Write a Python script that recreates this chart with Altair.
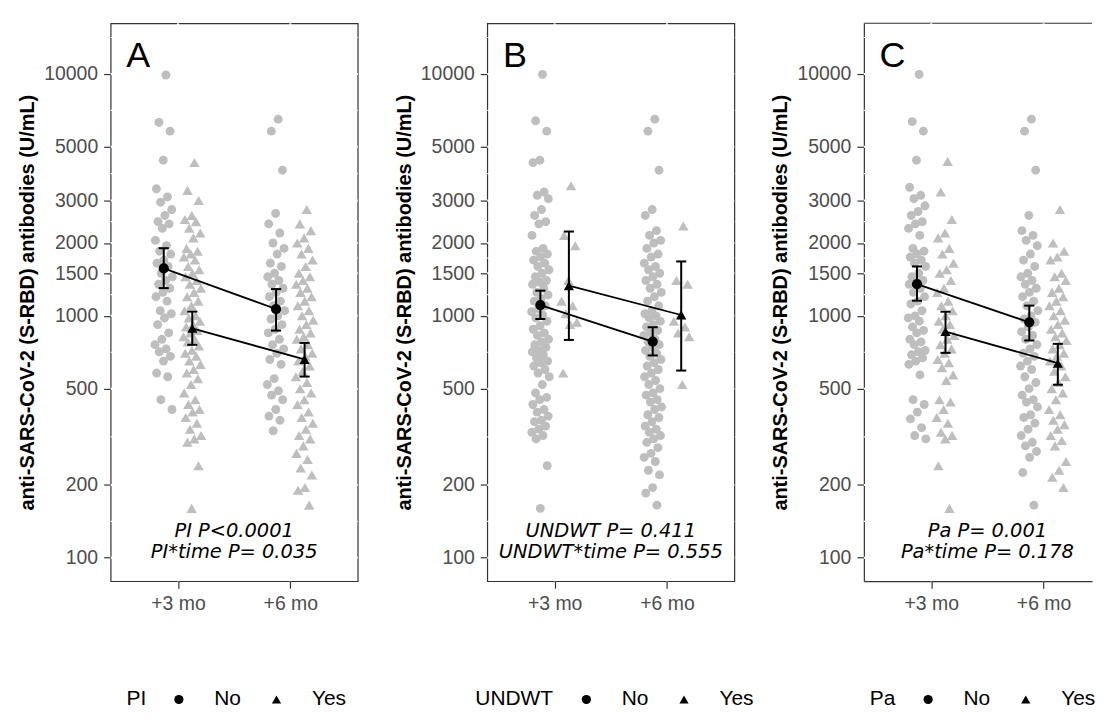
import altair as alt
import pandas as pd

PANELS = ["A", "B", "C"]
FACTORS = ["PI", "UNDWT", "Pa"]
GROUPS = ["No", "Yes"]
TIMES = ["+3 mo", "+6 mo"]
P_MAIN = ["PI P<0.0001", "UNDWT P= 0.411", "Pa P= 0.001"]
P_INTER = ["PI*time P= 0.035", "UNDWT*time P= 0.555", "Pa*time P= 0.178"]
Y_TICKS = [100, 200, 500, 1000, 1500, 2000, 3000, 5000, 10000]
Y_TITLE = "anti-SARS-CoV-2 (S-RBD) antibodies (U/mL)"
Y_MIN, Y_MAX = 80, 16200

# ---- individual values (U/mL) ----
A_NO_3 = [9900, 6300, 5800, 4400, 3350, 3100, 2950, 2750, 2600, 2450, 2400, 2300, 2050, 1950,
          1850, 1800, 1700, 1650, 1600, 1500, 1450, 1400, 1350, 1300, 1250, 1200, 1150, 1050,
          1020, 980, 920, 850, 800, 760, 730, 710, 680, 650, 580, 560, 450, 410]
A_YES_3 = [4300, 3300, 3000, 2600, 2500, 2450, 2300, 2200, 2100, 1900, 1850, 1800, 1750, 1700,
           1600, 1550, 1500, 1450, 1400, 1350, 1300, 1250, 1200, 1150, 1100, 1050, 1000, 980,
           950, 920, 900, 870, 850, 820, 800, 780, 750, 720, 700, 680, 650, 630, 600, 580, 550,
           520, 480, 450, 430, 410, 400, 380, 360, 340, 320, 310, 300, 240, 160]
A_NO_6 = [6500, 5800, 4000, 2650, 2400, 2200, 2000, 1900, 1800, 1650, 1600, 1500, 1450, 1400,
          1350, 1300, 1250, 1200, 1150, 1100, 1050, 1000, 970, 920, 880, 850, 800, 760, 730,
          700, 660, 630, 550, 520, 490, 470, 450, 410, 385, 370, 335]
A_YES_6 = [2750, 2400, 2250, 2100, 2000, 1900, 1800, 1700, 1600, 1500, 1450, 1400, 1350, 1300,
           1250, 1200, 1150, 1100, 1050, 1000, 960, 920, 880, 850, 820, 800, 760, 730, 700, 680,
           650, 620, 590, 560, 530, 500, 480, 450, 430, 400, 380, 360, 340, 320, 310, 290, 270,
           255, 235, 220, 195, 190, 165]

B_NO_3 = [9950, 6400, 5800, 4400, 4300, 3250, 3150, 3050, 2750, 2600, 2450, 2400, 2150, 1900,
          1850, 1800, 1750, 1700, 1650, 1600, 1550, 1500, 1450, 1400, 1380, 1350, 1300, 1250,
          1220, 1180, 1150, 1100, 1070, 1040, 1010, 980, 950, 910, 880, 850, 830, 800, 780, 760,
          740, 720, 710, 690, 670, 650, 640, 620, 600, 580, 560, 520, 480, 460, 450, 430, 410,
          400, 385, 370, 365, 350, 340, 330, 320, 310, 240, 160]
B_YES_3 = [3450, 2150, 1950, 1400, 1150, 1100, 1020, 940, 920, 580]
B_NO_6 = [6500, 5800, 4000, 2750, 2600, 2250, 2150, 2050, 2000, 1900, 1800, 1750, 1650, 1600,
          1550, 1500, 1450, 1400, 1350, 1300, 1250, 1200, 1150, 1100, 1050, 1020, 1000, 980,
          950, 920, 900, 870, 850, 830, 800, 780, 760, 740, 720, 700, 680, 660, 640, 620, 600,
          580, 560, 540, 520, 500, 480, 470, 450, 440, 420, 410, 390, 380, 365, 350, 340, 330,
          320, 310, 300, 285, 270, 260, 250, 230, 220, 195, 185, 165]
B_YES_6 = [2350, 1400, 1350, 1010, 950, 900, 850, 820, 520]

C_NO_3 = [9950, 6350, 5800, 4400, 3400, 3150, 3050, 2850, 2700, 2600, 2450, 2400, 2300, 2150,
          1900, 1850, 1800, 1750, 1700, 1650, 1600, 1500, 1450, 1400, 1380, 1350, 1300, 1250,
          1200, 1150, 1120, 1050, 1000, 980, 950, 900, 870, 850, 800, 780, 760, 720, 710, 690,
          670, 650, 630, 570, 450, 430, 400, 375, 345, 320, 310]
C_YES_3 = [4350, 3250, 2500, 2200, 2100, 1900, 1800, 1650, 1550, 1500, 1400, 1300, 1250, 1150,
           1100, 1050, 1000, 950, 920, 880, 830, 800, 760, 730, 700, 660, 640, 610, 570, 540,
           450, 440, 410, 380, 360, 330, 320, 310, 240, 160]
C_NO_6 = [6500, 5800, 4000, 2600, 2250, 2150, 2050, 1950, 1800, 1700, 1600, 1500, 1450, 1400,
          1350, 1300, 1250, 1200, 1150, 1100, 1050, 1000, 970, 940, 900, 860, 830, 800, 760,
          730, 700, 680, 650, 620, 600, 560, 530, 500, 470, 450, 440, 420, 390, 380, 360, 340,
          320, 300, 290, 275, 260, 225, 165]
C_YES_6 = [2750, 2000, 1850, 1750, 1700, 1500, 1450, 1400, 1300, 1250, 1200, 1150, 1100, 1050,
           1000, 960, 920, 880, 850, 820, 790, 760, 730, 700, 680, 650, 620, 590, 560, 530, 500,
           480, 450, 410, 390, 370, 355, 340, 320, 305, 290, 250, 230, 215, 195]

# ---- estimated means with 95% CI  ([+3 mo, +6 mo]) ----
MEAN_NO = {"A": [1570, 1067], "B": [1108, 783], "C": [1352, 940]}
LO_NO = {"A": [1302, 869], "B": [970, 686], "C": [1155, 791]}
HI_NO = {"A": [1904, 1290], "B": [1271, 897], "C": [1600, 1102]}
MEAN_YES = {"A": [888, 660], "B": [1332, 1008], "C": [861, 637]}
LO_YES = {"A": [759, 561], "B": [795, 594], "C": [703, 519]}
HI_YES = {"A": [1041, 773], "B": [2231, 1678], "C": [1040, 766]}

POINT_SETS = {
    "A": {"No": [A_NO_3, A_NO_6], "Yes": [A_YES_3, A_YES_6]},
    "B": {"No": [B_NO_3, B_NO_6], "Yes": [B_YES_3, B_YES_6]},
    "C": {"No": [C_NO_3, C_NO_6], "Yes": [C_YES_3, C_YES_6]},
}

FONT = "Liberation Sans"
BORDER = "#333333"
GREY_PT = "#BEBEBE"
DODGE = 0.127
SHAPES = ["circle", "triangle-up"]

pt_rows, mean_rows = [], []
for p in PANELS:
    for g in GROUPS:
        for ti in range(2):
            for v in POINT_SETS[p][g][ti]:
                pt_rows.append({"p": p, "g": g, "t": ti + 1, "v": v})
    for ti in range(2):
        mean_rows.append({"p": p, "g": "No", "t": ti + 1, "m": MEAN_NO[p][ti],
                          "lo": LO_NO[p][ti], "hi": HI_NO[p][ti]})
        mean_rows.append({"p": p, "g": "Yes", "t": ti + 1, "m": MEAN_YES[p][ti],
                          "lo": LO_YES[p][ti], "hi": HI_YES[p][ti]})
pts_df = pd.DataFrame(pt_rows)
means_df = pd.DataFrame(mean_rows)

# grid positions (white lines, as in the original theme)
major = Y_TICKS
minor = [(a * b) ** 0.5 for a, b in zip(Y_TICKS[:-1], Y_TICKS[1:])] + [(10000 * 20000) ** 0.5]
ygrid_df = pd.DataFrame({"v": major + minor, "w": [2.0] * len(major) + [1.2] * len(minor)})
xgrid_df = pd.DataFrame({"xp": [1, 2]})

label_expr = f"datum.value == 1 ? '{TIMES[0]}' : '{TIMES[1]}'"
dodge_expr = f"datum.t + (datum.g == 'No' ? {-DODGE} : {DODGE})"
jitter_expr = dodge_expr + " + (((datum.k * 0.6180339887) % 1) - 0.5) * 0.16"

# legend placement inside each panel's group (pixels from the panel's top-left)
LEGEND_X = [16, -12, 6]
LEGEND_Y = 668


def make_panel(i, width, xmax, framed):
    p = PANELS[i]
    xscale = alt.Scale(domain=[0.4, xmax], nice=False, zero=False)
    yscale = alt.Scale(type="log", domain=[Y_MIN, Y_MAX], nice=False)
    xaxis = alt.Axis(values=[1, 2], labelExpr=label_expr, title=None, grid=False,
                     domain=not framed, domainColor=BORDER, domainWidth=1.2)
    yaxis = alt.Axis(values=Y_TICKS, format="d", title=Y_TITLE, grid=False,
                     domain=not framed, domainColor=BORDER, domainWidth=1.2)

    def X(f):
        return alt.X(f, type="quantitative", scale=xscale, axis=xaxis)

    def Y(f):
        return alt.Y(f, type="quantitative", scale=yscale, axis=yaxis)

    legend = alt.Legend(title=FACTORS[i], orient="none", legendX=LEGEND_X[i], legendY=LEGEND_Y,
                        direction="horizontal", titleOrient="left", symbolSize=85,
                        labelFontSize=21, titleFontSize=21, titleFontWeight="normal",
                        titleFont=FONT, labelFont=FONT, titleColor="black", labelColor="black",
                        titlePadding=22, labelOffset=25, columnPadding=25, symbolStrokeWidth=0,
                        titleBaseline="middle", titleLineHeight=21)

    layers = []
    if not framed:
        layers.append(alt.Chart(pd.DataFrame({"v": [Y_MAX]})).mark_rule(
            color=BORDER, strokeWidth=1.2).encode(y=Y("v")))
    layers.append(alt.Chart(ygrid_df).mark_rule(color="white").encode(
        y=Y("v"), strokeWidth=alt.StrokeWidth("w:Q", scale=None, legend=None)))
    layers.append(alt.Chart(xgrid_df).mark_rule(color="white", strokeWidth=2).encode(x=X("xp")))

    for g, shp, sz in zip(GROUPS, SHAPES, [80, 110]):
        layers.append(
            alt.Chart(pts_df[(pts_df.p == p) & (pts_df.g == g)])
            .transform_window(k="row_number()", groupby=["t"])
            .transform_calculate(xp=jitter_expr)
            .mark_point(filled=True, opacity=1, color=GREY_PT, strokeWidth=0, shape=shp, size=sz)
            .encode(x=X("xp"), y=Y("v")))

    mbase = alt.Chart(means_df[means_df.p == p]).transform_calculate(
        xp=dodge_expr, xl=dodge_expr + " - 0.045", xr=dodge_expr + " + 0.045")
    layers.append(mbase.mark_line(color="black", strokeWidth=1.8).encode(
        x=X("xp"), y=Y("m"), detail="g:N"))
    layers.append(mbase.mark_rule(color="black", strokeWidth=2).encode(
        x=X("xp"), y=Y("lo"), y2=alt.Y2("hi")))
    layers.append(mbase.transform_fold(["lo", "hi"], as_=["which", "cv"]).mark_rule(
        color="black", strokeWidth=2).encode(x=X("xl"), x2=alt.X2("xr"), y=Y("cv")))
    layers.append(mbase.mark_point(filled=True, opacity=1, color="black", strokeWidth=0, size=105).encode(
        x=X("xp"), y=Y("m"),
        shape=alt.Shape("g:N", scale=alt.Scale(domain=GROUPS, range=SHAPES), legend=legend)))

    layers.append(alt.Chart(pd.DataFrame({"z": [0]})).mark_text(
        font="DejaVu Sans", fontStyle="italic", fontSize=19.5, lineBreak="\n", lineHeight=21,
        align="center", baseline="middle", color="black").encode(
        x=X("xp"), y=Y("yv"), text=alt.value(P_MAIN[i] + "\n" + P_INTER[i])
    ).transform_calculate(xp="1.5", yv="129"))
    layers.append(alt.Chart(pd.DataFrame({"z": [0]})).mark_text(
        font=FONT, fontSize=36, align="left", baseline="middle", color="black").encode(
        x=X("xp"), y=Y("yv"), text=alt.value(p)
    ).transform_calculate(xp="0.54", yv="11900"))

    ch = alt.layer(*layers).properties(width=width, height=560)
    if not framed:
        ch = ch.properties(view=alt.ViewBackground(stroke="transparent"))
    return ch


panel_a = make_panel(0, 248, 2.6, True)
panel_b = make_panel(1, 248, 2.6, True)
panel_c = make_panel(2, 229, 0.4 + 229 / (248 / 2.2), False)

chart = (alt.hconcat(panel_a, panel_b, panel_c, spacing=130, bounds="flush")
         .resolve_scale(shape="independent", x="independent", y="independent")
         .resolve_legend(shape="independent")
         .properties(padding={"left": 9, "top": 12, "right": 0, "bottom": 0}, background="white")
         .configure_view(stroke=BORDER, strokeWidth=1.2)
         .configure_axis(labelFont=FONT, titleFont=FONT, labelFontSize=19.5, labelColor="#4D4D4D",
                         titleFontSize=20, titleFontWeight="bold", titleColor="black",
                         tickColor=BORDER, tickWidth=1.2, tickSize=7, labelPadding=6,
                         titlePadding=6))

chart.save("out.html", embed_options={"renderer": "svg", "actions": False})
